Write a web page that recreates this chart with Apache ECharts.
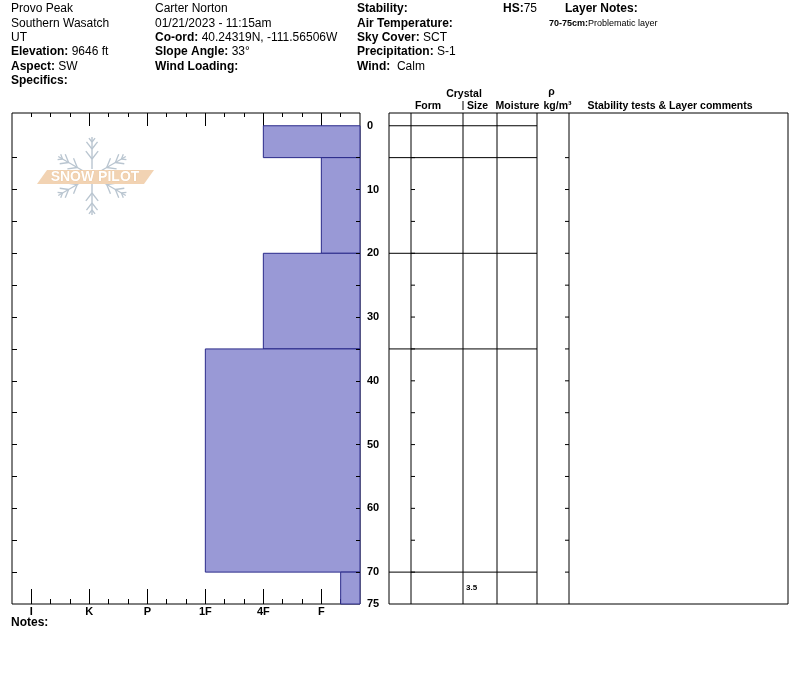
<!DOCTYPE html>
<html><head><meta charset="utf-8">
<script src="https://cdn.jsdelivr.net/npm/echarts@6/dist/echarts.min.js"></script>
<style>html,body{margin:0;padding:0;background:#fff}#c{width:800px;height:676px}</style>
</head><body><div id="c"></div>
<script>
// ---------------- DATA ----------------
const layerTops      = [0, 5, 20, 35, 70];
const layerBottoms   = [5, 20, 35, 70, 75];
const layerHardness  = ['4F', 'F', '4F', '1F', 'F-'];
const crystalSizes   = [null, null, null, null, '3.5'];
const hardnessLabels = ['F', '4F', '1F', 'P', 'K', 'I'];
const depthLabels    = [0, 10, 20, 30, 40, 50, 60, 70, 75];
const depthTicks     = [5, 10, 15, 20, 25, 30, 35, 40, 45, 50, 55, 60, 65, 70];
const snowDepth      = 75;

const headerCol1 = [['', 'Provo Peak'], ['', 'Southern Wasatch'], ['', 'UT'], ['Elevation:', ' 9646 ft'], ['Aspect:', ' SW'], ['Specifics:', '']];
const headerCol2 = [['', 'Carter Norton'], ['', '01/21/2023 - 11:15am'], ['Co-ord:', ' 40.24319N, -111.56506W'], ['Slope Angle:', ' 33°'], ['Wind Loading:', '']];
const headerCol3 = [['Stability:', ''], ['Air Temperature:', ''], ['Sky Cover:', ' SCT'], ['Precipitation:', ' S-1'], ['Wind:', '  Calm']];
const hsInfo     = ['HS:', '75'];
const layerNotes = [['70-75cm:', 'Problematic layer']];
const tableHeads = ['Form', 'Size', 'Moisture', 'kg/m³', 'Stability tests & Layer comments'];

// ---------------- HELPERS ----------------
// hardness scale: 0 at right edge, each hand-hardness step = 3 units, +/- = 1 unit
function hardVal(code) {
  let base = code.replace(/[+-]$/, '');
  let v = 2 + 3 * hardnessLabels.indexOf(base);
  if (code.endsWith('-')) v -= 1;
  if (code.endsWith('+')) v += 1;
  return v;
}
const majorVals = hardnessLabels.map(h => hardVal(h));
const hMax = majorVals[majorVals.length - 1] + 1;
const allSteps = [];
for (let i = 1; i < hMax; i++) allSteps.push(i);
const minorBottom = allSteps.filter(v => majorVals.indexOf(v) < 0);
const majorTop = majorVals.slice(0, majorVals.length - 1);
const minorTop = allSteps.filter(v => majorTop.indexOf(v) < 0);

const FONT = '"Liberation Sans", Arial, sans-serif';
const DEPTH_MIN = -2;
const TABLE_W = 399;
const colBounds = [22, 74, 108, 148, 180];

const graphics = [];
function richLine(x, y, label, value, size) {
  size = size || 12;
  graphics.push({
    type: 'text', left: x, top: y - size * 0.6,
    style: {
      text: (label ? '{b|' + label + '}' : '') + (value ? '{n|' + value + '}' : ''),
      rich: {
        b: { fontWeight: 'bold', fontSize: size, fontFamily: FONT, fill: '#000' },
        n: { fontSize: size, fontFamily: FONT, fill: '#000' }
      }
    }
  });
}
const rowY = i => 10 + i * 14.4;
headerCol1.forEach((r, i) => richLine(11, rowY(i), r[0], r[1]));
headerCol2.forEach((r, i) => richLine(155, rowY(i), r[0], r[1]));
headerCol3.forEach((r, i) => richLine(357, rowY(i), r[0], r[1]));
richLine(503, rowY(0), hsInfo[0], hsInfo[1]);
richLine(565, rowY(0), 'Layer Notes:', '');
layerNotes.forEach((r, i) => richLine(549, rowY(1 + i), r[0], r[1], 9));
richLine(11, 624, 'Notes:', '');

// table column headers
function headText(x, y, t) {
  graphics.push({ type: 'text', x: x, y: y,
    style: { text: t, fontWeight: 'bold', fontSize: 10.5, fontFamily: FONT, fill: '#000', align: 'center', verticalAlign: 'middle' } });
}
headText(464, 94.5, 'Crystal');
headText(551.5, 92, 'ρ');
const headX = [428, 477.5, 517.5, 557.5, 670];
tableHeads.forEach((t, i) => headText(headX[i], 106.5, t));
graphics.push({ type: 'line', shape: { x1: 463, y1: 101, x2: 463, y2: 110 }, style: { stroke: '#000', lineWidth: 1 } });

// Snow Pilot logo (decoration)
(function () {
  const cx = 92, cy = 176, col = '#b9c5d0';
  const angs = [-90, -30, 30, 90, 150, 210];
  angs.forEach(a => {
    const r = a * Math.PI / 180;
    const ux = Math.cos(r), uy = Math.sin(r);
    graphics.push({ type: 'line', shape: { x1: cx + ux * 7, y1: cy + uy * 7, x2: cx + ux * 39, y2: cy + uy * 39 }, style: { stroke: col, lineWidth: 1.4 } });
    [[17, 10], [27, 9], [34, 5]].forEach(b => {
      const px = cx + ux * b[0], py = cy + uy * b[0];
      [-38, 38].forEach(d => {
        const rr = (a + d) * Math.PI / 180;
        graphics.push({ type: 'line', shape: { x1: px, y1: py, x2: px + Math.cos(rr) * b[1], y2: py + Math.sin(rr) * b[1] }, style: { stroke: col, lineWidth: 1.3 } });
      });
    });
  });
  graphics.push({ type: 'polygon', shape: { points: [[37, 184], [47, 170], [154, 170], [144, 184]] }, style: { fill: '#f2d3b3' } });
  graphics.push({ type: 'text', x: 95, y: 177.5, style: { text: 'SNOW PILOT', fontSize: 14, fontWeight: 'bold', fontFamily: FONT, fill: '#ffffff', stroke: '#e9c49c', lineWidth: 0.6, align: 'center', verticalAlign: 'middle' } });
})();

// ---------------- SERIES DATA ----------------
const barData = layerTops.map((t, i) => [hardVal(layerHardness[i]), t, layerBottoms[i]]);
const boundaryData = layerTops.map(t => [t]);
const sizeData = [];
crystalSizes.forEach((s, i) => { if (s !== null) sizeData.push([(layerTops[i] + layerBottoms[i]) / 2, s]); });

const axisFontB = { fontWeight: 'bold', fontSize: 11, fontFamily: FONT, color: '#000' };
const tickStyle = { color: '#000', width: 1 };
const noLine = { show: false, onZero: false };

const option = {
  animation: false,
  backgroundColor: '#fff',
  grid: [
    { left: 12, top: 113, width: 348, height: 491, show: true, borderColor: '#000', borderWidth: 1, backgroundColor: 'transparent' },
    { left: 389, top: 113, width: TABLE_W, height: 491, show: true, borderColor: '#000', borderWidth: 1, backgroundColor: 'transparent' }
  ],
  xAxis: [
    { gridIndex: 0, type: 'value', min: 0, max: hMax, inverse: true, position: 'bottom',
      axisLine: noLine, splitLine: { show: false },
      axisTick: { show: true, inside: true, length: 15, customValues: majorVals, lineStyle: tickStyle },
      axisLabel: Object.assign({ show: true, customValues: majorVals, margin: 2,
        formatter: v => hardnessLabels[majorVals.indexOf(Math.round(v))] || '' }, axisFontB) },
    { gridIndex: 0, type: 'value', min: 0, max: hMax, inverse: true, position: 'bottom',
      axisLine: noLine, splitLine: { show: false }, axisLabel: { show: false },
      axisTick: { show: true, inside: true, length: 5, customValues: minorBottom, lineStyle: tickStyle } },
    { gridIndex: 0, type: 'value', min: 0, max: hMax, inverse: true, position: 'top',
      axisLine: noLine, splitLine: { show: false }, axisLabel: { show: false },
      axisTick: { show: true, inside: true, length: 13, customValues: majorTop, lineStyle: tickStyle } },
    { gridIndex: 0, type: 'value', min: 0, max: hMax, inverse: true, position: 'top',
      axisLine: noLine, splitLine: { show: false }, axisLabel: { show: false },
      axisTick: { show: true, inside: true, length: 4, customValues: minorTop, lineStyle: tickStyle } },
    { gridIndex: 1, type: 'value', min: 0, max: TABLE_W, show: false, axisLine: noLine }
  ],
  yAxis: [
    { gridIndex: 0, type: 'value', min: DEPTH_MIN, max: snowDepth, inverse: true, position: 'right', z: 10,
      axisLine: noLine, splitLine: { show: false },
      axisTick: { show: true, inside: true, length: 4, customValues: depthTicks, lineStyle: tickStyle },
      axisLabel: Object.assign({ show: true, customValues: depthLabels, margin: 7 }, axisFontB) },
    { gridIndex: 0, type: 'value', min: DEPTH_MIN, max: snowDepth, inverse: true, position: 'left',
      axisLine: noLine, splitLine: { show: false }, axisLabel: { show: false },
      axisTick: { show: true, inside: true, length: 5, customValues: depthTicks, lineStyle: tickStyle } },
    { gridIndex: 1, type: 'value', min: DEPTH_MIN, max: snowDepth, inverse: true, show: false, axisLine: noLine }
  ],
  series: [
    { type: 'custom', xAxisIndex: 0, yAxisIndex: 0, data: barData, z: 3,
      renderItem: (params, api) => {
        const p1 = api.coord([api.value(0), api.value(1)]);
        const p2 = api.coord([0, api.value(2)]);
        return { type: 'rect', shape: { x: p1[0], y: p1[1], width: p2[0] - p1[0], height: p2[1] - p1[1] },
          style: { fill: '#9999d6', stroke: '#2a2a8a', lineWidth: 1 } };
      } },
    // layer boundaries in table
    { type: 'custom', xAxisIndex: 4, yAxisIndex: 2, data: boundaryData,
      renderItem: (params, api) => {
        const a = api.coord([0, api.value(0)]), b = api.coord([colBounds[3], api.value(0)]);
        return { type: 'line', shape: { x1: a[0], y1: a[1], x2: b[0], y2: b[1] }, style: { stroke: '#000', lineWidth: 1 } };
      } },
    // column separators
    { type: 'custom', xAxisIndex: 4, yAxisIndex: 2, data: colBounds.map(c => [c]),
      renderItem: (params, api) => {
        const a = api.coord([api.value(0), DEPTH_MIN]), b = api.coord([api.value(0), snowDepth]);
        return { type: 'line', shape: { x1: a[0], y1: a[1], x2: b[0], y2: b[1] }, style: { stroke: '#000', lineWidth: 1 } };
      } },
    // depth ticks inside table
    { type: 'custom', xAxisIndex: 4, yAxisIndex: 2, data: depthTicks.map(d => [d]),
      renderItem: (params, api) => {
        const a = api.coord([colBounds[0], api.value(0)]), b = api.coord([colBounds[4], api.value(0)]);
        return { type: 'group', children: [
          { type: 'line', shape: { x1: a[0], y1: a[1], x2: a[0] + 4, y2: a[1] }, style: { stroke: '#000', lineWidth: 1 } },
          { type: 'line', shape: { x1: b[0] - 4, y1: b[1], x2: b[0], y2: b[1] }, style: { stroke: '#000', lineWidth: 1 } }
        ] };
      } },
    // crystal sizes
    { type: 'custom', xAxisIndex: 4, yAxisIndex: 2, data: sizeData,
      renderItem: (params, api) => {
        const p = api.coord([colBounds[1] + 3, api.value(0)]);
        return { type: 'text', x: p[0], y: p[1], style: { text: String(sizeData[params.dataIndex][1]), fontSize: 8, fontWeight: 'bold', fontFamily: FONT, fill: '#000', align: 'left', verticalAlign: 'middle' } };
      } }
  ],
  graphic: graphics
};

const chart = echarts.init(document.getElementById('c'), null, { renderer: 'canvas' });
chart.setOption(option);
</script>
</body></html>
